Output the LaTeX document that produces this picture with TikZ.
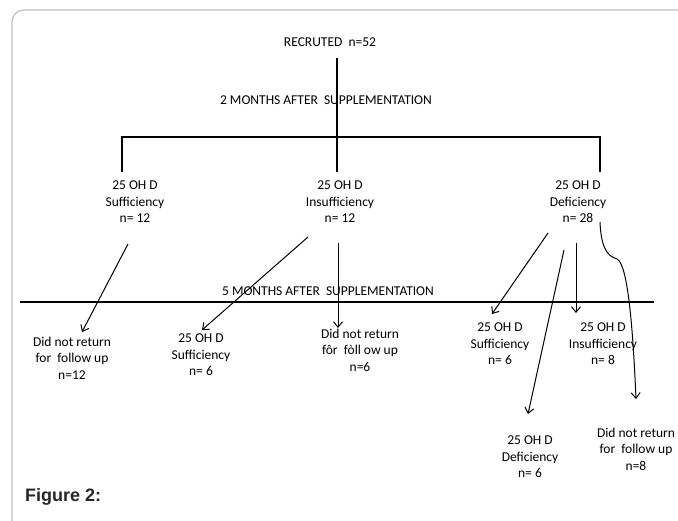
\documentclass[tikz,border=0pt]{standalone}
\usepackage{fontspec}
\setmainfont{Carlito}
\newfontfamily\figfont{Liberation Sans}
\usetikzlibrary{arrows.meta}
\begin{document}
\begin{tikzpicture}[x=1pt,y=-1pt,
  lbl/.style={align=center,inner sep=0pt,font=\fontsize{13.5}{16.5}\selectfont},
  bar/.style={line width=2pt},
  arr/.style={line width=1pt,-{Straight Barb[length=5.5pt,width=9pt,line width=1pt]}},
  frame/.style={draw=black!25,line width=1.2pt}]
\useasboundingbox (0,0) rectangle (678,521);
\draw[frame,rounded corners=12pt] (12,521) -- (12,10) -- (678,10);

\node[lbl] (rec) at (330,42) {RECRUTED\ \ n=52};
\node[lbl] (m2) at (326,100) {2 MONTHS AFTER\ \ SUPPLEMENTATION};
\node[lbl] (g1) at (135,202) {25 OH D\\Sufficiency\\n= 12};
\node[lbl] (g2) at (340,202) {25 OH D\\Insufficiency\\n= 12};
\node[lbl] (g3) at (578,202) {25 OH D\\Deficiency\\n= 28};
\node[lbl] (m5) at (328,291) {5 MONTHS AFTER\ \ SUPPLEMENTATION};
\node[lbl] (b1) at (72,358) {Did not return\\for\ \ follow up\\n=12};
\node[lbl] (b2) at (201,355) {25 OH D\\Sufficiency\\n= 6};
\node[lbl] (b3) at (360,350) {Did not return\\fôr\ \ fòll ow up\\n=6};
\node[lbl] (b4) at (500,344) {25 OH D\\Sufficiency\\n= 6};
\node[lbl] (b5) at (603,344) {25 OH D\\Insufficiency\\n= 8};
\node[lbl] (b6) at (530,457) {25 OH D\\Deficiency\\n= 6};
\node[lbl] (b7) at (636,449) {Did not return\\for\ \ follow up\\n=8};
\node[anchor=west,inner sep=0pt,text=black!85,font=\figfont\bfseries\fontsize{18}{20}\selectfont] (fig) at (25,497) {Figure 2:};

% tree
\coordinate (top) at (337,58);
\coordinate (hub) at (337,137);
\coordinate (l1) at (122,137);
\coordinate (r1) at (600,137);
\coordinate (l2) at (122,172);
\coordinate (c2) at (337,172);
\coordinate (r2) at (600,172);
\draw[bar] (top) -- (hub);
\draw[bar] (l2) -- (l1) -- (r1) -- (r2);
\draw[bar] (hub) -- (c2);

% 5 months line
\coordinate (h5a) at (20,302);
\coordinate (h5b) at (654,302);
\draw[bar] (h5a) -- (h5b);

% arrows
\coordinate (s1) at (128,244);
\coordinate (e1) at (82,332);
\coordinate (s2) at (308,237);
\coordinate (e2) at (202,330);
\coordinate (s3) at (338,243);
\coordinate (e3) at (338,328);
\coordinate (s4) at (548,233);
\coordinate (e4) at (492,314);
\coordinate (s5) at (576,243);
\coordinate (e5) at (576,313);
\coordinate (s6) at (564,250);
\coordinate (e6) at (528,414);
\coordinate (s7) at (600,222);
\coordinate (k7) at (617,259);
\coordinate (e7) at (636,399);
\draw[arr] (s1) -- (e1);
\draw[arr] (s2) -- (e2);
\draw[arr] (s3) -- (e3);
\draw[arr] (s4) -- (e4);
\draw[arr] (s5) -- (e5);
\draw[arr] (s6) -- (e6);
\draw[arr] (s7) .. controls (601,245) and (606,256) .. (k7) .. controls (628,264) and (633,330) .. (e7);
\end{tikzpicture}
\end{document}
